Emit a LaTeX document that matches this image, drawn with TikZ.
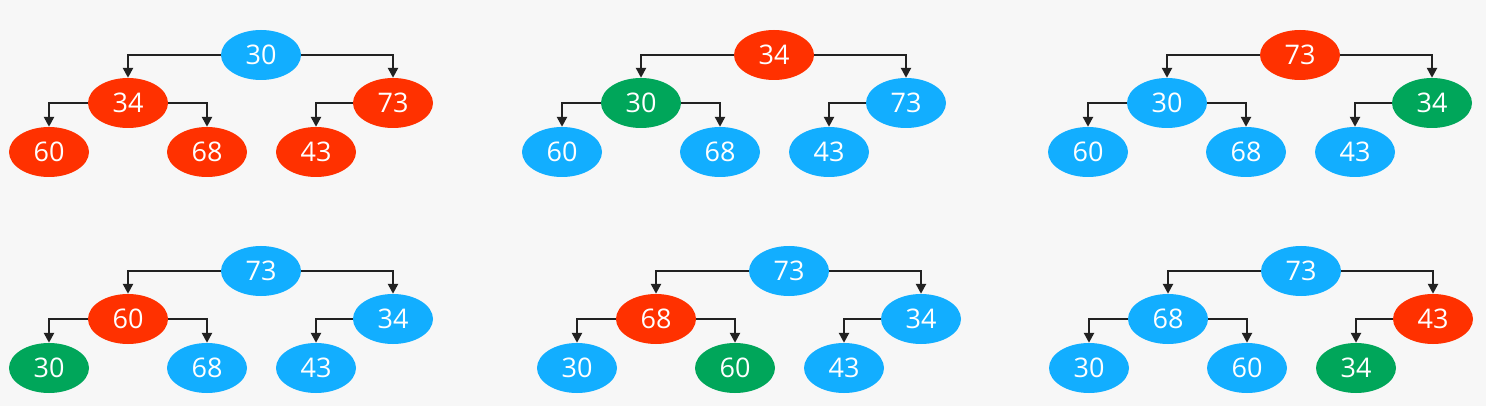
\documentclass[tikz,border=0pt]{standalone}
\usepackage{fontspec}
\setmainfont{Open Sans}
\usepackage{xcolor}
\usetikzlibrary{positioning, shapes.geometric, arrows.meta, backgrounds}

\definecolor{heapblue}{RGB}{18,174,255}
\definecolor{heapred}{RGB}{255,49,0}
\definecolor{heapgreen}{RGB}{0,166,90}
\definecolor{paper}{RGB}{247,247,247}
\definecolor{wire}{RGB}{34,34,34}

\tikzset{
  key/.style={ellipse, minimum width=80pt, minimum height=50pt, inner sep=0pt,
    text=white, font=\fontsize{27}{30}\selectfont},
  bl/.style={key, fill=heapblue, node contents={#1}},
  rd/.style={key, fill=heapred, node contents={#1}},
  gr/.style={key, fill=heapgreen, node contents={#1}},
  link/.style={draw=wire, line width=2.4pt, -{Triangle[length=10pt,width=10pt]}}
}

% one tree: #1 prefix, #2 root x, #3 root y, then the six keys (style=label)
\newcommand{\heaptree}[9]{%
  \node (#1r) at (#2,#3) [#4];
  \node (#1a) at (#2-133,#3+48) [#5];
  \node (#1b) at (#2+132,#3+48) [#6];
  \node (#1c) at (#2-212,#3+97) [#7];
  \node (#1d) at (#2-54,#3+97) [#8];
  \node (#1e) at (#2+55,#3+97) [#9];
  \draw[link] (#1r.west) -| (#1a.north);
  \draw[link] (#1r.east) -| (#1b.north);
  \draw[link] (#1a.west) -| (#1c.north);
  \draw[link] (#1a.east) -| (#1d.north);
  \draw[link] (#1b.west) -| (#1e.north);
}

\begin{document}
\begin{tikzpicture}[x=1pt, y=-1pt]
        \fill[paper] (0,0) rectangle (1486,406);
        \useasboundingbox (0,0) rectangle (1486,406);

        % top row
        \heaptree{p}{261}{55}{bl=30}{rd=34}{rd=73}{rd=60}{rd=68}{rd=43}
        \heaptree{q}{774}{55}{rd=34}{gr=30}{bl=73}{bl=60}{bl=68}{bl=43}
        \heaptree{s}{1300}{55}{rd=73}{bl=30}{gr=34}{bl=60}{bl=68}{bl=43}

        % bottom row
        \heaptree{t}{261}{271}{bl=73}{rd=60}{bl=34}{gr=30}{bl=68}{bl=43}
        \heaptree{u}{789}{271}{bl=73}{rd=68}{bl=34}{bl=30}{gr=60}{bl=43}
        \heaptree{v}{1301}{271}{bl=73}{bl=68}{rd=43}{bl=30}{bl=60}{gr=34}
\end{tikzpicture}
\end{document}
